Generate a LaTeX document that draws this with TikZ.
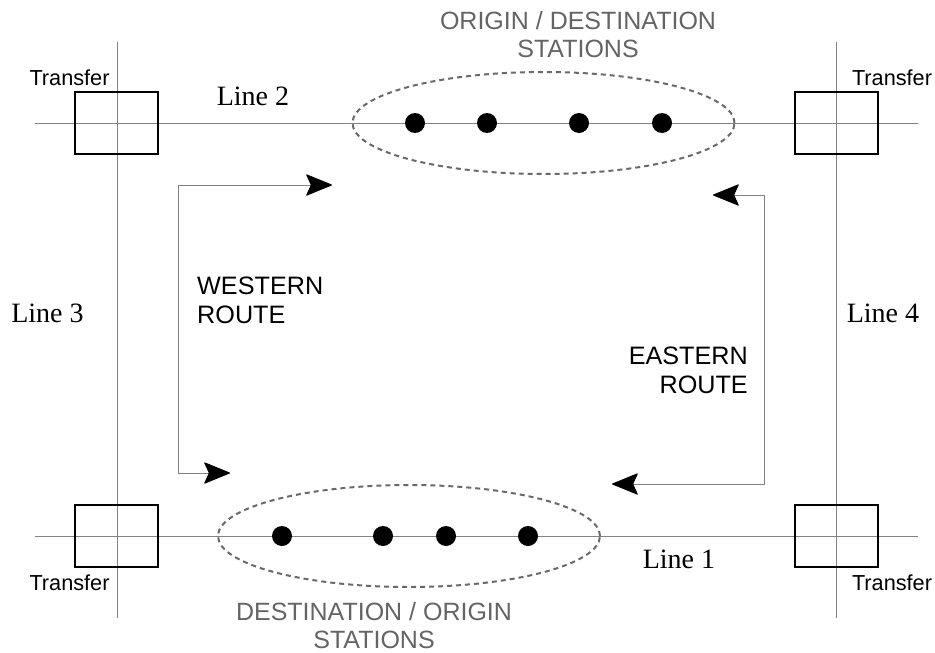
\documentclass[tikz,border=0pt]{standalone}
\usepackage{fontspec}
\setmainfont{Liberation Serif}
\newfontfamily\arialf{Liberation Sans}
\usetikzlibrary{arrows.meta,shapes.geometric}
\definecolor{linegray}{RGB}{130,130,130}
\definecolor{dashgray}{RGB}{105,105,105}
\definecolor{textgray}{RGB}{100,100,100}
\begin{document}
\begin{tikzpicture}[x=1pt,y=-1pt,
 track/.style={draw=linegray,line width=1pt},
 transferbox/.style={draw=black,line width=2pt,minimum width=83pt,minimum height=62pt,inner sep=0pt},
 station/.style={circle,fill=black,minimum size=20pt,inner sep=0pt},
 zone/.style={ellipse,draw=dashgray,dash pattern=on 5pt off 4pt,line width=2pt,inner sep=0pt,minimum width=382pt,minimum height=102pt},
 linelabel/.style={font=\fontsize{28}{32}\selectfont,inner sep=0pt,anchor=base},
 transferlabel/.style={font=\arialf\fontsize{21.7}{25}\selectfont,inner sep=0pt,anchor=base},
 grouplabel/.style={font=\arialf\fontsize{25}{28.5}\selectfont,text=textgray,align=center,inner sep=0pt},
 routelabel/.style={font=\arialf\fontsize{25.2}{28.5}\selectfont,inner sep=0pt},
 route/.style={draw=linegray,line width=1pt,
   >={Stealth[length=27pt,width=22pt,inset=5pt,round,color=black]},<->}
]
\useasboundingbox (0,0) rectangle (935,653);
% track lines
\coordinate (l2w) at (35,123);  \coordinate (l2e) at (918,123);
\coordinate (l1w) at (35,536);  \coordinate (l1e) at (918,536);
\coordinate (l3n) at (117,42);  \coordinate (l3s) at (117,618);
\coordinate (l4n) at (836,42);  \coordinate (l4s) at (836,618);
\draw[track] (l2w) -- (l2e);
\draw[track] (l1w) -- (l1e);
\draw[track] (l3n) -- (l3s);
\draw[track] (l4n) -- (l4s);
% transfer boxes
\node[transferbox] (tnw) at (116.5,123) {};
\node[transferbox] (tne) at (836.5,123) {};
\node[transferbox] (tsw) at (116.5,536) {};
\node[transferbox] (tse) at (836.5,536) {};
\node[transferlabel] (tlnw) at (69.5,85) {Transfer};
\node[transferlabel] (tlne) at (892,85) {Transfer};
\node[transferlabel] (tlsw) at (69.5,590) {Transfer};
\node[transferlabel] (tlse) at (892,590) {Transfer};
% station groups
\node[zone] (ztop) at (543.5,123) {};
\node[zone] (zbot) at (409,536) {};
\node[station] (s1) at (415,123) {};
\node[station] (s2) at (487,123) {};
\node[station] (s3) at (579,123) {};
\node[station] (s4) at (662,123) {};
\node[station] (s5) at (282,536) {};
\node[station] (s6) at (383,536) {};
\node[station] (s7) at (446,536) {};
\node[station] (s8) at (528,536) {};
\node[grouplabel] (gtop) at (578,34.5) {ORIGIN / DESTINATION\\STATIONS};
\node[grouplabel] (gbot) at (374,625.5) {DESTINATION / ORIGIN\\STATIONS};
% line labels
\node[linelabel] (ln2) at (253,105) {Line 2};
\node[linelabel] (ln3) at (47.5,322) {Line 3};
\node[linelabel] (ln4) at (883,322) {Line 4};
\node[linelabel] (ln1) at (679,568) {Line 1};
% routes
\coordinate (wt) at (332,185); \coordinate (wc1) at (178,185);
\coordinate (wc2) at (178,473); \coordinate (wb) at (230,473);
\draw[route] (wt) -- (wc1) -- (wc2) -- (wb);
\coordinate (et) at (713,195); \coordinate (ec1) at (764,195);
\coordinate (ec2) at (764,484); \coordinate (eb) at (612,484);
\draw[route] (et) -- (ec1) -- (ec2) -- (eb);
\node[routelabel,anchor=west,align=left] (wr) at (197,300.5) {WESTERN\\ROUTE};
\node[routelabel,anchor=east,align=right] (er) at (748,370.5) {EASTERN\\ROUTE};
\end{tikzpicture}
\end{document}
